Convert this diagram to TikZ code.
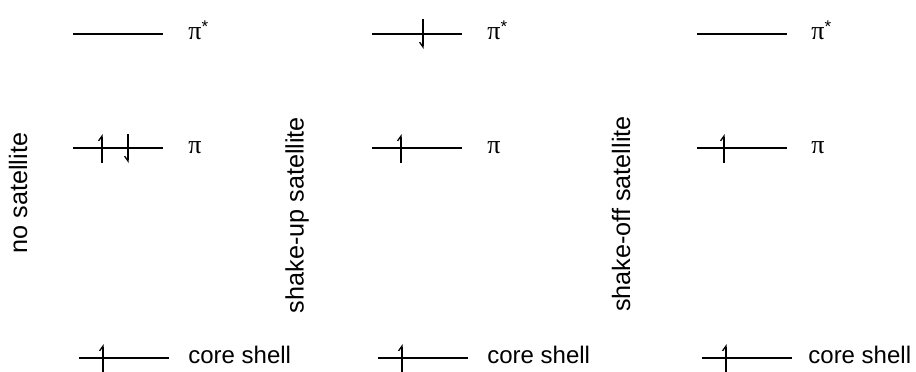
\documentclass[tikz,border=0pt]{standalone}
\usepackage{fontspec}
\setmainfont{Liberation Sans}
\newfontfamily\grk{Liberation Serif}
\usetikzlibrary{arrows.meta}
\newcommand{\pisym}{{\grk\fontsize{13pt}{14pt}\selectfont π}}
\newcommand{\pistar}{\pisym\raisebox{.28em}{\fontsize{8.5pt}{9pt}\selectfont *}}

\begin{document}
\begin{tikzpicture}[
  x=0.5pt, y=-0.5pt,
  lvl/.style={line width=0.65pt},
  spinup/.style={line width=0.65pt, -{Straight Barb[left, length=2.4pt, width=3.4pt]}},
  spindn/.style={line width=0.65pt, -{Straight Barb[right, length=2.4pt, width=3.4pt]}},
  orb/.style={anchor=west, inner sep=0pt, font=\fontsize{12pt}{14pt}\selectfont},
  side/.style={rotate=90, inner sep=0pt, font=\fontsize{12.6pt}{14pt}\selectfont}
]
\useasboundingbox (0,0) rectangle (916,371);
% no satellite
\draw[lvl] (73,34) -- (163,34);
\draw[lvl] (73,148) -- (163,148);
\draw[spinup] (102,163) -- (102,134);
\draw[spindn] (128,134) -- (128,163);
\draw[lvl] (79,358) -- (169,358);
\draw[spinup] (103,372) -- (103,344);
\node[orb] (pistA) at (188,30) {\pistar};
\node[orb] (piA) at (188,148) {\pisym};
\node[orb] (coreA) at (188,355) {core shell};
\node[side] (noSat) at (18,193) {no satellite};
% shake-up satellite
\draw[lvl] (372,34) -- (462,34);
\draw[spindn] (423,19) -- (423,49);
\draw[lvl] (372,148) -- (462,148);
\draw[spinup] (401,163) -- (401,134);
\draw[lvl] (378,358) -- (468,358);
\draw[spinup] (402,372) -- (402,344);
\node[orb] (pistB) at (487,30) {\pistar};
\node[orb] (piB) at (487,148) {\pisym};
\node[orb] (coreB) at (487,355) {core shell};
\node[side] (upSat) at (297,215) {shake-up satellite};
% shake-off satellite
\draw[lvl] (697,34) -- (787,34);
\draw[lvl] (697,148) -- (787,148);
\draw[spinup] (724,163) -- (724,134);
\draw[lvl] (702,358) -- (792,358);
\draw[spinup] (726,372) -- (726,344);
\node[orb] (pistC) at (811,30) {\pistar};
\node[orb] (piC) at (811,148) {\pisym};
\node[orb] (coreC) at (808,355) {core shell};
\node[side] (offSat) at (621,214) {shake-off satellite};
\end{tikzpicture}
\end{document}
